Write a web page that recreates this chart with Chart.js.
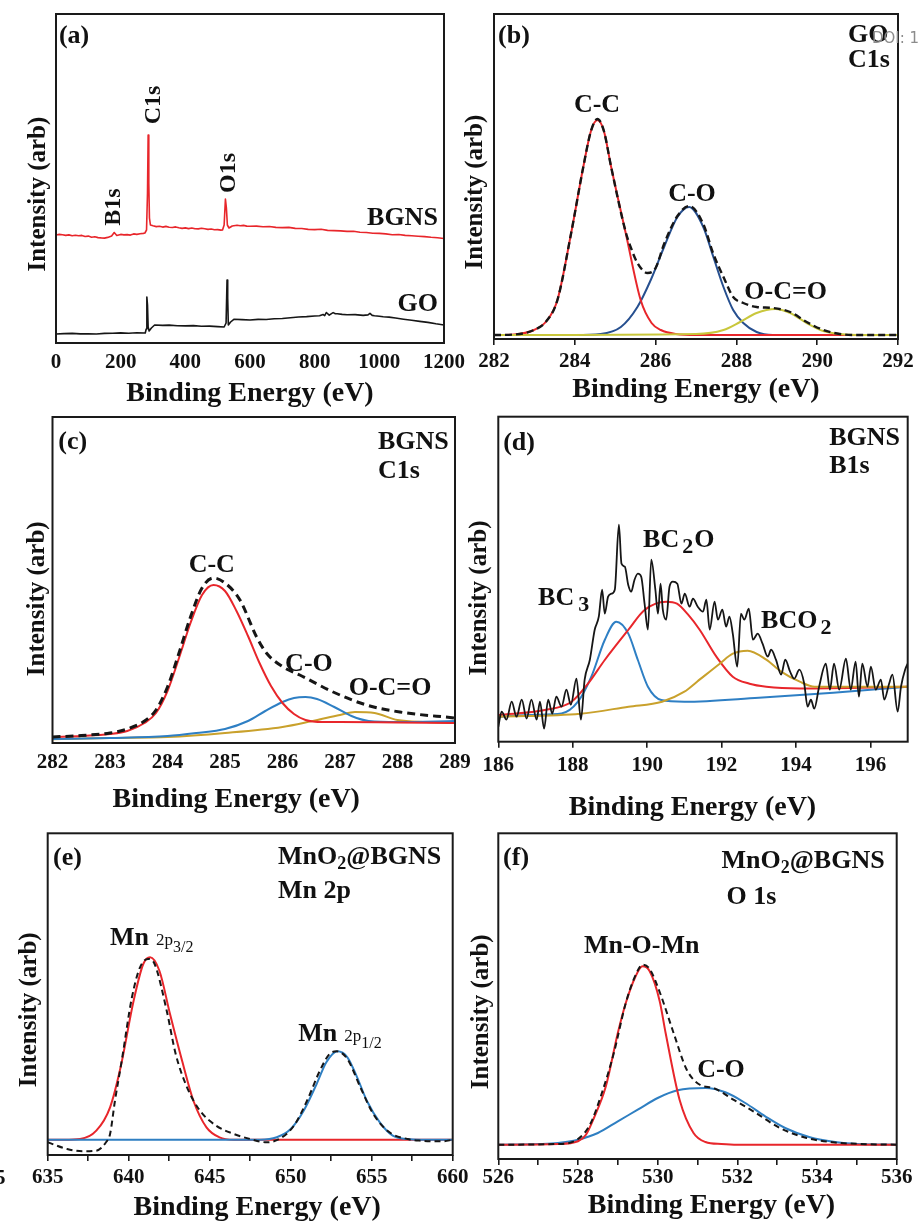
<!DOCTYPE html>
<html><head><meta charset="utf-8">
<script src="https://cdn.jsdelivr.net/npm/chart.js@4.4.1/dist/chart.umd.min.js"></script>
<style>
html,body{margin:0;padding:0;background:#fff;}
body{width:919px;height:1221px;position:relative;overflow:hidden;}
canvas{position:absolute;}
.stray{position:absolute;white-space:nowrap;}
</style></head><body>
<canvas id="cA" width="475" height="412" style="left:0px;top:0px;width:475px;height:412px"></canvas>
<canvas id="cB" width="479" height="410" style="left:440px;top:0px;width:479px;height:410px"></canvas>
<canvas id="cC" width="485" height="417" style="left:0px;top:400px;width:485px;height:417px"></canvas>
<canvas id="cD" width="479" height="425" style="left:440px;top:400px;width:479px;height:425px"></canvas>
<canvas id="cE" width="480" height="420" style="left:0px;top:815px;width:480px;height:420px"></canvas>
<canvas id="cF" width="479" height="420" style="left:440px;top:815px;width:479px;height:420px"></canvas>
<div class="stray" style="left:872px;top:29px;font:15px 'DejaVu Sans',sans-serif;color:#8c8c8c;">DOI: 1</div>
<div class="stray" style="left:-5px;top:1165px;font:bold 21px 'Liberation Serif',serif;color:#111;">5</div>
<script>
const FONT = "'Liberation Serif','Times New Roman',serif";

// ---------------- (a) survey spectra ----------------
const a_BGNS_x = [0,10,20,30,40,50,60,70,80,90,100,110,120,130,140,150,160,172,180,188,200,210,220,230,240,250,260,270,275,280,283,285,287,289,292,300,310,320,330,340,350,360,370,380,390,400,410,420,430,440,450,460,470,480,490,500,510,515,520,524,527,530,535,545,560,570,580,590,600,620,640,660,680,700,720,740,760,780,800,820,840,860,880,900,920,940,960,980,1000,1020,1040,1060,1080,1100,1120,1140,1160,1180,1200];
const a_BGNS_y = [108,108.6,108.2,107.6,108.1,107.3,107.8,107.2,107.6,106.5,106.9,105.8,106.2,105.4,105.1,104.9,105.6,107,110.5,107.5,108.6,108.1,108.4,107.9,109.1,108.6,109.2,109.6,110,113,150,208,160,125,118,117.2,116.4,116.8,115.9,116.6,115.8,115.5,116.1,115.2,114.6,115.1,114.4,115,114.2,114.1,114.7,114.2,113.6,114,113.2,113.4,112.9,113,118,144,135,118,115,117,117.8,117.2,117.6,116.9,116.7,116.9,116.2,116.5,115.6,115.4,115.6,114.6,114.5,113.6,113.4,113.7,112.6,112.4,112.1,111.6,111.8,110.7,110.5,109.8,109.6,109.1,108.2,108.5,107.6,107.2,106.8,106.4,105.7,105.3,104.5];
const a_GO_x = [0,25,50,75,100,125,150,175,200,225,250,276,279,281,283,285,288,295,305,330,350,375,400,425,450,475,500,520,526,529,531,533,540,550,575,600,625,650,675,700,725,750,775,800,815,826,831,836,845,852,857,864,870,885,900,925,950,965,971,978,985,1000,1012,1030,1050,1075,1100,1125,1150,1175,1200];
const a_GO_y = [9,9.4,9.6,9.1,9.3,9.0,9.6,9.8,10.1,9.8,10.2,10,14,46,38,16,12,15,18,17.6,17.9,17.2,17.1,17.4,16.8,16.9,16.4,16,20,63,45,18,21,23.7,23.4,23,23.6,23.5,24.2,24.5,25.3,26,26.4,27,27.3,28.5,27.4,30.5,27.8,29.4,30.4,29.2,29.3,28.6,28.2,28.4,27.6,28.1,29.6,27.6,27.3,26.8,26.2,25.9,25,23.8,22.7,21.6,20.6,19.2,18];
const a_ticks = [0,200,400,600,800,1000,1200];
const a_tickLabels = ['0','200','400','600','800','1000','1200'];

// ---------------- (b) GO C1s ----------------
const b_env_x = [282,282.5,282.99,283.3,283.57,283.91,284.21,284.4,284.56,284.72,284.9,285.26,285.4,285.55,285.8,286.0,286.21,286.54,286.83,287.18,287.43,287.68,287.92,288.17,288.5,288.9,289.33,289.74,290.15,290.56,291,292];
const b_env_y = [4,4.5,9,18,39,106,172,208,220,208,172,107,90,76,66,71,95,123,133,115,85,62,42,36,32,31,27,17,9,5,4,4];
const b_CC_x = [282,282.5,282.99,283.3,283.57,283.91,284.21,284.4,284.56,284.72,284.9,285.26,285.63,285.9,286.13,286.5,287,292];
const b_CC_y = [4,4.5,9,18,39,106,172,208,219,208,172,106,39,16,9,5,4,4];
const b_CO_x = [282,284,284.64,285.14,285.55,285.88,286.21,286.54,286.83,287.18,287.43,287.68,287.92,288.17,288.5,288.9,290,292];
const b_CO_y = [4,4,5,12,32,59,92,122,132,112,82,52,29,16,7,4,4,4];
const b_OCO_x = [282,287,287.68,288.09,288.5,288.96,289.33,289.74,290.15,290.56,291,292];
const b_OCO_y = [4,5,9,17,26,30,26,16,8,5,4,4];
const b_ticks = [282,284,286,288,290,292];
const b_tickLabels = ['282','284','286','288','290','292'];

// ---------------- (c) BGNS C1s ----------------
const c_env_x = [282,282.5,283,283.3,283.6,283.8,284,284.2,284.4,284.6,284.8,285,285.26,285.55,285.72,286.01,286.3,286.88,287.46,288.04,289];
const c_env_y = [6,7.5,10,14,22,33,56,90,126,155,165,160,143,106,90,76,68,51,38,31,25];
const c_CC_x = [282,282.5,283,283.3,283.6,283.8,284,284.2,284.4,284.6,284.8,285,285.2,285.4,285.6,285.8,286,286.2,286.4,286.7,287,288,289];
const c_CC_y = [6,7,9,12,20,30,52,85,120,148,158,152,132,107,80,57,40,29,23,21,21,20.5,20];
const c_CO_x = [282,283,284,284.5,285,285.4,285.7,286,286.2,286.4,286.6,286.9,287.2,287.5,288,289];
const c_CO_y = [4,5,7,10,14,22,32,41,45,46,44,36,27,22,21,22];
const c_OCO_x = [282,283,284,285,286,286.5,287,287.26,287.6,288,288.5,289];
const c_OCO_y = [3.7,5,6,10,16,21.7,28,31,30,23,21,20];
const c_ticks = [282,283,284,285,286,287,288,289];
const c_tickLabels = ['282','283','284','285','286','287','288','289'];

// ---------------- (d) BGNS B1s ----------------
const d_raw_x = [186.0,186.09,186.22,186.36,186.49,186.63,186.76,186.89,187.03,187.12,187.23,187.34,187.45,187.56,187.70,187.83,187.95,188.1,188.22,188.32,188.46,188.59,188.7,188.79,188.86,188.95,189.04,189.13,189.24,189.31,189.4,189.49,189.57,189.66,189.75,189.84,189.93,190.02,190.11,190.22,190.29,190.36,190.42,190.51,190.6,190.69,190.81,190.92,191.01,191.14,191.23,191.36,191.5,191.59,191.68,191.81,191.9,192.02,192.12,192.21,192.3,192.42,192.52,192.61,192.73,192.84,192.97,193.1,193.24,193.33,193.46,193.6,193.71,193.84,193.95,194.09,194.22,194.31,194.4,194.49,194.62,194.8,194.91,195.02,195.16,195.34,195.47,195.6,195.69,195.78,195.92,196.01,196.14,196.28,196.37,196.5,196.59,196.73,196.82,196.93,197.0];
const d_raw_y = [15,30,22,40,25,42,23,42,22,40,13,42,28,45,35,52,37,63,22,62,82,112,125,152,128,145,148,152,217,178,175,157,150,162,168,165,138,112,182,152,128,158,132,122,155,160,158,138,148,135,143,135,130,142,112,140,122,132,115,125,108,75,128,122,133,102,108,98,85,92,82,67,82,70,63,72,58,35,42,33,55,78,52,78,52,83,52,80,45,78,55,75,52,62,42,58,67,30,55,72,78];
const d_BC3_x = [186,187,187.7,188.14,188.5,188.86,189.17,189.49,189.75,190.02,190.38,191,193,195,197];
const d_BC3_y = [25,27,28.3,40,65,101.7,120,108.3,81.7,55,41.7,40,44,49,55];
const d_BC2O_x = [186,187.25,187.97,188.41,188.86,189.49,189.93,190.51,190.8,191.1,191.41,191.86,192.3,192.75,193.2,194.1,197];
const d_BC2O_y = [26.7,31.7,40,58,81.7,111.7,131.7,140,138,127,112,85,65,58,55,53.3,55];
const d_BCO2_x = [186,188.2,189.5,190.4,191.0,191.34,191.95,192.3,192.7,193.2,193.6,194.1,194.5,197];
const d_BCO2_y = [25,28,35,40,50,60,78,88,91,82,70,60,55,55];
const d_ticks = [186,188,190,192,194,196];
const d_tickLabels = ['186','188','190','192','194','196'];

// ---------------- (e) MnO2@BGNS Mn 2p ----------------
const e_env_x = [635,636.2,637.2,638,638.6,638.85,639.15,639.57,640.2,640.7,641.2,641.6,642.35,642.9,643.6,644.4,645.4,646.5,647.5,648.5,649.3,650.2,651,651.8,652.4,652.84,653.5,654.3,655.1,656.1,657.2,658,659.4,660];
const e_env_y = [12.7,6,3.7,4.3,12.7,21,54,94.3,157.7,187.7,196,191,144,101,67.7,44.3,29.3,21,16,12.7,16,29.3,54,84.3,101,103.7,96,67.7,41,22.7,16,14.3,13.7,15.3];
const e_p32_x = [635,636,637,638,638.85,639.5,640.3,640.9,641.32,641.9,642.55,643.3,644,644.8,645.6,646.5,650,655,660];
const e_p32_y = [15.3,15.3,16,24.3,47.7,87.7,154,191,197.7,184,141,94,54,27.7,17.7,15.3,15.3,15.3,15.3];
const e_p12_x = [635,645,648.1,649.14,650,650.8,651.6,652.2,652.88,653.5,654.1,654.7,655.5,656.3,657.2,658,660];
const e_p12_y = [15.3,15.3,15.3,17.7,26,44.3,71,92.7,103.7,97.7,77.7,54.3,32.7,19.3,16,15.3,15.3];
const e_ticks = [635,637.5,640,642.5,645,647.5,650,652.5,655,657.5,660];
const e_tickLabels = ['635','','640','','645','','650','','655','','660'];

// ---------------- (f) MnO2@BGNS O 1s ----------------
const f_env_x = [526,527.5,528,528.3,528.6,528.9,529.2,529.45,529.62,529.8,530.06,530.4,530.73,531.07,531.4,531.9,532.4,533.07,533.74,534.4,535.08,536];
const f_env_y = [14.3,15,20,34.3,66,106,156,184.3,194.3,190,166,126,89.3,74,71,59.3,47.7,31,21,16.7,15,14.3];
const f_MnOMn_x = [526,527.5,528,528.2,528.4,528.7,529,529.2,529.45,529.62,529.8,530.05,530.2,530.55,530.9,531.2,531.6,532,536];
const f_MnOMn_y = [14.3,15,17.7,24.3,41,72.7,126,156,183,192.7,187.7,158,126,59.3,26,17,15,14.3,14.3];
const f_CO_x = [526,527,527.5,528,528.5,529,529.5,530,530.5,531.2,531.7,532.2,532.7,533.2,533.8,534.5,535,536];
const f_CO_y = [14.3,15,16,19.3,26,37.7,49.3,61,68.7,71,66.7,56,42.7,31,22,16.7,15,14.3];
const f_ticks = [526,527,528,529,530,531,532,533,534,535,536];
const f_tickLabels = ['526','','528','','530','','532','','534','','536'];

const X_TITLE = 'Binding Energy (eV)';
const Y_TITLE = 'Intensity (arb)';

// ---------------- helpers / plugins ----------------
const pts = (xs, ys) => xs.map((x, i) => ({x: x, y: ys[i]}));
const RED = '#e8262b', BLACK = '#161616';

const frame = {
  id: 'frame',
  afterDatasetsDraw(chart) {
    const a = chart.chartArea, ctx = chart.ctx;
    ctx.save();
    ctx.strokeStyle = '#1a1a1a'; ctx.lineWidth = 2;
    ctx.strokeRect(a.left, a.top, a.right - a.left, a.bottom - a.top);
    ctx.restore();
  }
};
function fontStr(p) { return (p.bold === false ? '' : 'bold ') + (p.size || 26) + 'px ' + FONT; }
const annotate = {
  id: 'annotate',
  afterDraw(chart, args, opts) {
    const ctx = chart.ctx, xs = chart.scales.x, ys = chart.scales.y;
    (opts.items || []).forEach(a => {
      const px = xs.getPixelForValue(a.x), py = ys.getPixelForValue(a.y);
      ctx.save();
      ctx.translate(px, py);
      if (a.rotate) ctx.rotate(-Math.PI / 2);
      let total = 0;
      a.parts.forEach(p => { ctx.font = fontStr(p); p._w = ctx.measureText(p.t).width; total += p._w + (p.dx || 0); });
      let x0 = a.align === 'center' ? -total / 2 : (a.align === 'right' ? -total : 0);
      const base = 0.34 * (a.parts[0].size || 26);
      ctx.textAlign = 'left'; ctx.textBaseline = 'alphabetic'; ctx.fillStyle = '#111';
      a.parts.forEach(p => { x0 += (p.dx || 0); ctx.font = fontStr(p); ctx.fillText(p.t, x0, base + (p.dy || 0)); x0 += p._w; });
      ctx.restore();
    });
  }
};

function build(id, P) {
  return new Chart(document.getElementById(id), {
    type: 'line',
    data: { datasets: P.series.map(s => ({
      data: pts(s.x, s.y), borderColor: s.color, borderWidth: s.width || 2, borderDash: s.dash || [],
      pointRadius: 0, fill: false, tension: s.mono ? 0.4 : 0,
      cubicInterpolationMode: s.mono ? 'monotone' : 'default', borderJoinStyle: 'round'
    })) },
    options: {
      responsive: false, animation: false, events: [],
      layout: { autoPadding: false, padding: { left: 0, top: P.padTop, right: P.padRight, bottom: 0 } },
      plugins: { legend: { display: false }, tooltip: { enabled: false }, annotate: { items: P.notes } },
      scales: {
        x: {
          type: 'linear', min: P.xmin, max: P.xmax,
          afterBuildTicks: s => { s.ticks = P.ticks.map(v => ({ value: v })); },
          afterFit: s => { s.height = P.xH; },
          ticks: { autoSkip: false, maxRotation: 0, minRotation: 0, padding: P.tickPad, color: '#111',
                   font: { family: FONT, size: 21, weight: 'bold' }, callback: (v, i) => P.tickLabels[i] },
          grid: { display: true, drawOnChartArea: false, drawTicks: P.drawTicks, tickLength: 6, color: '#1a1a1a', lineWidth: 1.6 },
          border: { display: false },
          title: { display: true, text: P.xTitle, color: '#111', font: { family: FONT, size: 28, weight: 'bold' },
                   padding: { top: 0, bottom: P.xTitlePad } }
        },
        y: {
          type: 'linear', min: 0, max: P.ymax,
          afterFit: s => { s.width = P.yW; },
          ticks: { display: false }, grid: { display: false }, border: { display: false },
          title: { display: true, text: P.yTitle, color: '#111', font: { family: FONT, size: 25, weight: 'bold' },
                   padding: { top: P.yTitlePad, bottom: 0 } }
        }
      }
    },
    plugins: [frame, annotate]
  });
}

// ---------------- (a) ----------------
build('cA', {
  xmin: 0, xmax: 1200, ymax: 329, ticks: a_ticks, tickLabels: a_tickLabels,
  padTop: 14, padRight: 31, yW: 56, xH: 69, tickPad: 7.4, drawTicks: false,
  xTitle: X_TITLE, xTitlePad: 1.7, yTitle: Y_TITLE + '     ', yTitlePad: 23.5,
  series: [
    { x: a_BGNS_x, y: a_BGNS_y, color: RED, width: 1.6 },
    { x: a_GO_x, y: a_GO_y, color: BLACK, width: 1.6 }
  ],
  notes: [
    { x: 9, y: 309, align: 'left', parts: [{ t: '(a)' }] },
    { x: 174, y: 136, rotate: true, align: 'center', parts: [{ t: 'B1s', size: 24 }] },
    { x: 295, y: 238, rotate: true, align: 'center', parts: [{ t: 'C1s', size: 24 }] },
    { x: 527, y: 170, rotate: true, align: 'center', parts: [{ t: 'O1s', size: 24 }] },
    { x: 1181, y: 127, align: 'right', parts: [{ t: 'BGNS' }] },
    { x: 1181, y: 41, align: 'right', parts: [{ t: 'GO' }] }
  ]
});

// ---------------- (b) ----------------
build('cB', {
  xmin: 282, xmax: 292, ymax: 325, ticks: b_ticks, tickLabels: b_tickLabels,
  padTop: 14, padRight: 21, yW: 54, xH: 71, tickPad: 4.4, drawTicks: true,
  xTitle: X_TITLE, xTitlePad: 3.7, yTitle: Y_TITLE + '     ', yTitlePad: 21,
  series: [
    { x: b_env_x, y: b_env_y, color: BLACK, width: 2.4, dash: [7, 4], mono: true },
    { x: b_OCO_x, y: b_OCO_y, color: '#c9c73c', width: 2, mono: true },
    { x: b_CC_x, y: b_CC_y, color: RED, width: 2, mono: true },
    { x: b_CO_x, y: b_CO_y, color: '#264f8f', width: 2, mono: true }
  ],
  notes: [
    { x: 282.1, y: 305, align: 'left', parts: [{ t: '(b)' }] },
    { x: 290.76, y: 306, align: 'left', parts: [{ t: 'GO' }] },
    { x: 290.76, y: 281, align: 'left', parts: [{ t: 'C1s' }] },
    { x: 284.55, y: 236, align: 'center', parts: [{ t: 'C-C' }] },
    { x: 286.9, y: 147, align: 'center', parts: [{ t: 'C-O' }] },
    { x: 289.22, y: 49, align: 'center', parts: [{ t: 'O-C=O' }] }
  ]
});

// ---------------- (c) ----------------
build('cC', {
  xmin: 282, xmax: 289, ymax: 326, ticks: c_ticks, tickLabels: c_tickLabels,
  padTop: 17, padRight: 30, yW: 52.5, xH: 74, tickPad: 7.4, drawTicks: false,
  xTitle: X_TITLE + '     ', xTitlePad: 0.7, yTitle: Y_TITLE + '      ', yTitlePad: 23,
  series: [
    { x: c_env_x, y: c_env_y, color: BLACK, width: 3, dash: [8, 5], mono: true },
    { x: c_CC_x, y: c_CC_y, color: RED, width: 2, mono: true },
    { x: c_CO_x, y: c_CO_y, color: '#2e7fc4', width: 2, mono: true },
    { x: c_OCO_x, y: c_OCO_y, color: '#c9a12c', width: 2, mono: true }
  ],
  notes: [
    { x: 282.1, y: 303, align: 'left', parts: [{ t: '(c)' }] },
    { x: 287.66, y: 303, align: 'left', parts: [{ t: 'BGNS' }] },
    { x: 287.66, y: 274, align: 'left', parts: [{ t: 'C1s' }] },
    { x: 284.77, y: 179.7, align: 'center', parts: [{ t: 'C-C' }] },
    { x: 286.46, y: 80.5, align: 'center', parts: [{ t: 'C-O' }] },
    { x: 287.87, y: 57, align: 'center', parts: [{ t: 'O-C=O' }] }
  ]
});

// ---------------- (d) ----------------
build('cD', {
  xmin: 186, xmax: 197, ymax: 325, ticks: d_ticks, tickLabels: d_tickLabels,
  padTop: 16.7, padRight: 11.3, yW: 58.3, xH: 83.3, tickPad: 5.4, drawTicks: true,
  xTitle: X_TITLE + '   ', xTitlePad: 0, yTitle: Y_TITLE + '      ', yTitlePad: 25,
  series: [
    { x: d_raw_x, y: d_raw_y, color: BLACK, width: 1.8, mono: true },
    { x: d_BCO2_x, y: d_BCO2_y, color: '#c9a12c', width: 2, mono: true },
    { x: d_BC2O_x, y: d_BC2O_y, color: RED, width: 2, mono: true },
    { x: d_BC3_x, y: d_BC3_y, color: '#2e7fc4', width: 2, mono: true }
  ],
  notes: [
    { x: 186.13, y: 300.7, align: 'left', parts: [{ t: '(d)' }] },
    { x: 194.89, y: 305.7, align: 'left', parts: [{ t: 'BGNS' }] },
    { x: 194.89, y: 277.7, align: 'left', parts: [{ t: 'B1s' }] },
    { x: 187.07, y: 145.7, align: 'left', parts: [{ t: 'BC' }, { t: '3', size: 22, dy: 6, dx: 4 }] },
    { x: 189.89, y: 204, align: 'left', parts: [{ t: 'BC' }, { t: '2', size: 22, dy: 6, dx: 3 }, { t: 'O', dx: 1 }] },
    { x: 193.06, y: 122.7, align: 'left', parts: [{ t: 'BCO' }, { t: '2', size: 22, dy: 6, dx: 3 }] }
  ]
});

// ---------------- (e) ----------------
build('cE', {
  xmin: 635, xmax: 660, ymax: 321.7, ticks: e_ticks, tickLabels: e_tickLabels,
  padTop: 18.3, padRight: 27.3, yW: 47.7, xH: 80, tickPad: 4.4, drawTicks: true,
  xTitle: '  ' + X_TITLE, xTitlePad: 10.8, yTitle: Y_TITLE + '     ', yTitlePad: 15,
  series: [
    { x: e_env_x, y: e_env_y, color: BLACK, width: 2, dash: [6, 4], mono: true },
    { x: e_p12_x, y: e_p12_y, color: '#2f7fc2', width: 2, mono: true },
    { x: e_p32_x, y: e_p32_y, color: RED, width: 2, mono: true }
  ],
  notes: [
    { x: 635.33, y: 299, align: 'left', parts: [{ t: '(e)' }] },
    { x: 649.22, y: 300, align: 'left', parts: [{ t: 'MnO' }, { t: '2', size: 18, dy: 5 }, { t: '@BGNS' }] },
    { x: 649.22, y: 266, align: 'left', parts: [{ t: 'Mn 2p' }] },
    { x: 638.85, y: 219, align: 'left', parts: [{ t: 'Mn' }, { t: '2p', size: 17, bold: false, dx: 7 }, { t: '3/2', size: 16, bold: false, dy: 7 }] },
    { x: 650.47, y: 123.3, align: 'left', parts: [{ t: 'Mn' }, { t: '2p', size: 17, bold: false, dx: 7 }, { t: '1/2', size: 16, bold: false, dy: 7 }] }
  ]
});

// ---------------- (f) ----------------
build('cF', {
  xmin: 526, xmax: 536, ymax: 325.7, ticks: f_ticks, tickLabels: f_tickLabels,
  padTop: 18.3, padRight: 22.3, yW: 58.3, xH: 76, tickPad: 0.4, drawTicks: true,
  xTitle: '    ' + X_TITLE, xTitlePad: 12.8, yTitle: Y_TITLE + '     ', yTitlePad: 26.5,
  series: [
    { x: f_env_x, y: f_env_y, color: BLACK, width: 2, dash: [6, 4], mono: true },
    { x: f_MnOMn_x, y: f_MnOMn_y, color: RED, width: 2, mono: true },
    { x: f_CO_x, y: f_CO_y, color: '#2f7fc2', width: 2, mono: true }
  ],
  notes: [
    { x: 526.12, y: 303, align: 'left', parts: [{ t: '(f)' }] },
    { x: 531.6, y: 300, align: 'left', parts: [{ t: 'MnO' }, { t: '2', size: 18, dy: 5 }, { t: '@BGNS' }] },
    { x: 531.73, y: 264, align: 'left', parts: [{ t: 'O 1s' }] },
    { x: 529.6, y: 215, align: 'center', parts: [{ t: 'Mn-O-Mn' }] },
    { x: 531.59, y: 91, align: 'center', parts: [{ t: 'C-O' }] }
  ]
});
</script>
</body></html>
